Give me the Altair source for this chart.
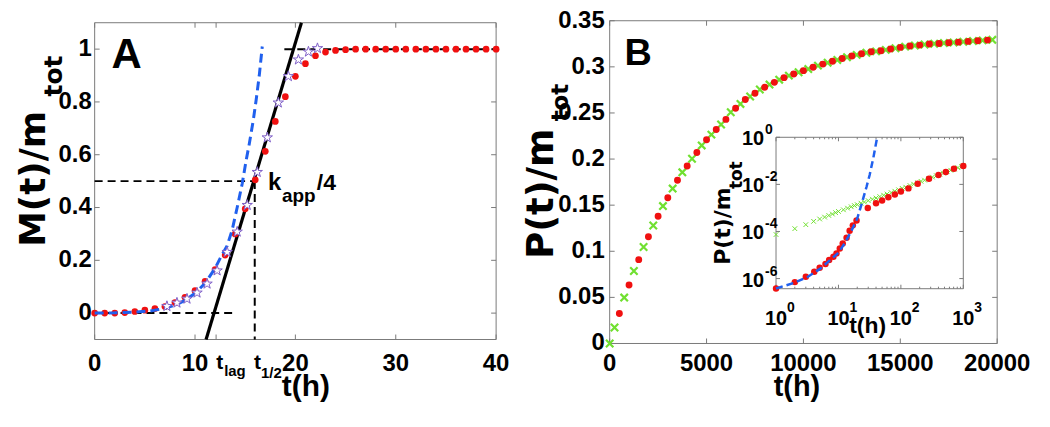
import altair as alt
import pandas as pd

# ---------------- Panel A data ----------------
A_RED_T = list(range(0, 41))
A_RED_Y = [0, 0, 0, 0.002, 0.006, 0.011, 0.017, 0.025, 0.04, 0.06, 0.085, 0.12, 0.165,
           0.22, 0.30, 0.395, 0.505, 0.613, 0.726, 0.82, 0.897, 0.945, 0.975, 0.989,
           0.995, 0.998, 1, 1, 1, 1, 1, 1, 1, 1, 1, 1, 1, 1, 1, 1, 1]
A_STAR_T = [7.2, 8.2, 9.2, 10.2, 11.2, 12.2, 13.2, 14.2, 15.2, 16.2, 17.2, 18.3, 19.3, 20.3, 21.3, 22.2]
A_STAR_Y = [0.026, 0.039, 0.054, 0.077, 0.111, 0.161, 0.231, 0.308, 0.409, 0.534, 0.665,
            0.797, 0.897, 0.96, 0.99, 1.003]
A_BLUE_T = [0, 2, 4, 5.5, 7, 8, 9, 10, 11, 12, 12.6, 13.2, 13.7, 14.2, 14.7, 15.1, 15.4, 15.8, 16.1, 16.4, 16.7]
A_BLUE_Y = [0, 0.001, 0.004, 0.008, 0.018, 0.03, 0.048, 0.075, 0.113, 0.17, 0.215, 0.255,
            0.315, 0.40, 0.49, 0.58, 0.64, 0.73, 0.81, 0.9, 1.01]
A_FIT_T = [11.1, 20.6]
A_FIT_Y = [-0.1, 1.1]
A_GUIDE_SEG = ["base", "base", "half", "half", "thalf", "thalf", "top", "top"]
A_GUIDE_T = [0, 14.0, 0, 15.95, 15.95, 15.95, 18.9, 40]
A_GUIDE_Y = [0, 0, 0.5, 0.5, 0.5, -0.1, 1, 1]
A_XTICKS = [0, 10, 20, 30, 40]
A_XLABELS = ["0", "10", "20", "30", "40"]
A_XTICKS_MARK = [0, 10, 12.1, 20, 30, 40]
A_YTICKS = [0, 0.2, 0.4, 0.6, 0.8, 1]
A_YLABELS = ["0", "0.2", "0.4", "0.6", "0.8", "1"]
A_XDOM = [0, 40]
A_YDOM = [-0.1, 1.1]

# ---------------- Panel B data ----------------
B_RED_T = list(range(500, 20000, 500))
B_RED_P = [0.0325, 0.0635, 0.0909, 0.1158, 0.138, 0.158, 0.177, 0.1924, 0.2072, 0.221,
           0.232, 0.243, 0.2551, 0.2646, 0.2714, 0.2778, 0.2832, 0.2883, 0.2922, 0.2959,
           0.2995, 0.303, 0.306, 0.309, 0.3118, 0.3142, 0.3163, 0.3175, 0.3193, 0.3211,
           0.3226, 0.3236, 0.3247, 0.3254, 0.3261, 0.3268, 0.3276, 0.3283, 0.329]
B_GREEN_T = [0] + list(range(250, 20000, 500))
B_GREEN_P = [0, 0.0173, 0.0498, 0.0786, 0.1046, 0.128, 0.149, 0.168, 0.1856, 0.2003,
             0.2148, 0.2265, 0.2375, 0.2508, 0.2598, 0.2678, 0.2754, 0.2808, 0.2861, 0.2905,
             0.2941, 0.2976, 0.3013, 0.3045, 0.3075, 0.3105, 0.313, 0.3153, 0.3168, 0.3184,
             0.3202, 0.3219, 0.3231, 0.3242, 0.3251, 0.3258, 0.3265, 0.3272, 0.328, 0.3287,
             0.3293]
B_XTICKS = [0, 5000, 10000, 15000, 20000]
B_XLABELS = ["0", "5000", "10000", "15000", "20000"]
B_YTICKS = [0, 0.05, 0.1, 0.15, 0.2, 0.25, 0.3, 0.35]
B_YLABELS = ["0", "0.05", "0.1", "0.15", "0.2", "0.25", "0.3", "0.35"]
B_XDOM = [0, 20000]
B_YDOM = [0, 0.35]

# ---------------- Inset data (log10 of P as read) ----------------
I_RED_T = [1, 2, 3, 4.1, 5, 6.2, 7.1, 8.3, 9.3, 10.5, 11.7, 13.5, 15.1, 17, 19.5,
           29.5, 40, 50, 63, 80, 100, 132, 186, 282, 400, 525, 708, 1000]
I_RED_LOGP = [-6.42, -6.15, -5.92, -5.71, -5.54, -5.38, -5.21, -5.07, -4.93, -4.72, -4.51,
              -4.27, -3.97, -3.74, -3.53, -3.0, -2.8, -2.68, -2.55, -2.43, -2.3, -2.17,
              -1.97, -1.76, -1.6, -1.47, -1.34, -1.22]
I_GREEN_T = [1, 2, 3, 4, 5, 6, 7, 8, 9, 10, 12, 14, 16, 18, 20, 23, 26, 30, 35, 40, 46, 53,
             60, 70, 80, 92, 105, 120, 140, 160, 185, 210, 240, 280, 320, 370, 420, 480,
             550, 630, 720, 820, 940, 1000]
I_GREEN_LOGP = [-4.13, -3.88, -3.71, -3.57, -3.47, -3.39, -3.32, -3.26, -3.2, -3.15, -3.08,
                -3.01, -2.95, -2.9, -2.86, -2.8, -2.75, -2.69, -2.63, -2.58, -2.52, -2.46,
                -2.41, -2.35, -2.29, -2.23, -2.17, -2.12, -2.05, -1.99, -1.93, -1.87, -1.82,
                -1.75, -1.69, -1.63, -1.57, -1.52, -1.46, -1.40, -1.35, -1.29, -1.24, -1.21]
I_BLUE_T = [1, 2, 3.2, 5, 7.1, 10, 12.6, 15.8, 20, 23.4, 28.2, 31.6, 36.3, 41.7]
I_BLUE_LOGP = [-6.42, -6.17, -5.93, -5.6, -5.25, -4.9, -4.5, -4.02, -3.45, -2.85, -2.1,
               -1.6, -0.86, 0.0]
I_XMAJOR = [1, 10, 100, 1000]
I_XEXP = ["0", "1", "2", "3"]
I_XMINOR = [2, 3, 4, 5, 6, 7, 8, 9, 20, 30, 40, 50, 60, 70, 80, 90, 200, 300, 400, 500,
            600, 700, 800, 900]
I_YMAJOR = [1, 1e-2, 1e-4, 1e-6]
I_YEXP = ["0", "-2", "-4", "-6"]
I_XDOM = [1, 1000]
I_YDOM = [10 ** -6.43, 1]

# ---------------- style / layout ----------------
SANS = "Liberation Sans, Arial, sans-serif"
WIDE = "DejaVu Sans, sans-serif"
RED = "#f01010"
BLUE = "#2060ee"
GREEN = "#70e030"
PURPLE = "#7f5fc8"
FRAME = "#7a7a7a"
STAR = ("M0,-1L0.2245,-0.309L0.951,-0.309L0.363,0.118L0.588,0.809L0,0.382"
        "L-0.588,0.809L-0.363,0.118L-0.951,-0.309L-0.2245,-0.309Z")
XSHAPE = "M-1,-1L1,1M-1,1L1,-1"
TICK_FS = 24

W, H = 906, 324
A_XR, A_YR = [0, 403], [320, 2]
B_XR, B_YR = [517, 906], [324, 0]
I_XR, I_YR = [684, 872], [269, 117]


def sc(dom, rng, typ="linear"):
    return alt.Scale(type=typ, domain=dom, range=rng, nice=False, zero=False)


def frame(xdom, ydom, xs, ys, fill=None):
    df = pd.DataFrame({"x0": [xdom[0]], "x1": [xdom[1]], "y0": [ydom[0]], "y1": [ydom[1]]})
    kw = dict(stroke=FRAME, strokeWidth=1)
    if fill:
        mk = alt.Chart(df).mark_rect(fill=fill, **kw)
    else:
        mk = alt.Chart(df).mark_rect(fillOpacity=0, **kw)
    return mk.encode(
        x=alt.X("x0:Q", scale=xs, axis=None), x2="x1",
        y=alt.Y("y0:Q", scale=ys, axis=None), y2="y1")


def ticks(xv, yv, xs, ys, xr, yr, ln=5):
    out = []
    dx = pd.DataFrame({"v": xv})
    dy = pd.DataFrame({"v": yv})
    for y0, y1 in [(yr[0], yr[0] - ln), (yr[1], yr[1] + ln)]:
        out.append(alt.Chart(dx).mark_rule(color=FRAME, strokeWidth=1).encode(
            x=alt.X("v:Q", scale=xs, axis=None), y=alt.value(y0), y2=alt.value(y1)))
    for x0, x1 in [(xr[0], xr[0] + ln), (xr[1], xr[1] - ln)]:
        out.append(alt.Chart(dy).mark_rule(color=FRAME, strokeWidth=1).encode(
            y=alt.Y("v:Q", scale=ys, axis=None), x=alt.value(x0), x2=alt.value(x1)))
    return out


def xlabels(vals, labels, xs, y, size=TICK_FS):
    return alt.Chart(pd.DataFrame({"v": vals, "s": labels})).mark_text(
        font=SANS, fontSize=size, fontWeight="bold", align="center",
        baseline="alphabetic", color="black").encode(
        x=alt.X("v:Q", scale=xs, axis=None), y=alt.value(y), text="s:N")


def ylabels(vals, labels, ys, x, size=TICK_FS):
    return alt.Chart(pd.DataFrame({"v": vals, "s": labels})).mark_text(
        font=SANS, fontSize=size, fontWeight="bold", align="right",
        baseline="middle", color="black").encode(
        y=alt.Y("v:Q", scale=ys, axis=None), x=alt.value(x), text="s:N")


def txt(s, x, y, size, font=SANS, align="left", angle=0):
    return alt.Chart(pd.DataFrame({"a": [0]})).mark_text(
        text=s, font=font, fontSize=size, fontWeight="bold", align=align,
        baseline="alphabetic", angle=angle, color="black").encode(
        x=alt.value(x), y=alt.value(y))


# ---------------- Panel A ----------------
axs, ays = sc(A_XDOM, A_XR), sc(A_YDOM, A_YR)
XA = lambda f: alt.X(f, scale=axs, axis=None)
YA = lambda f: alt.Y(f, scale=ays, axis=None)

dA_red = pd.DataFrame({"t": A_RED_T, "y": A_RED_Y})
dA_star = pd.DataFrame({"t": A_STAR_T, "y": A_STAR_Y})
dA_blue = pd.DataFrame({"t": A_BLUE_T, "y": A_BLUE_Y, "i": range(len(A_BLUE_T))})
dA_fit = pd.DataFrame({"t": A_FIT_T, "y": A_FIT_Y})
dA_guide = pd.DataFrame({"t": A_GUIDE_T, "y": A_GUIDE_Y, "seg": A_GUIDE_SEG,
                         "i": range(len(A_GUIDE_T))})

groupA = alt.layer(
    frame(A_XDOM, A_YDOM, axs, ays),
    *ticks(A_XTICKS_MARK, A_YTICKS, axs, ays, A_XR, A_YR),
    xlabels(A_XTICKS, A_XLABELS, axs, 352),
    ylabels(A_YTICKS, A_YLABELS, ays, -3),
    alt.Chart(dA_guide).mark_line(color="black", strokeWidth=2, strokeDash=[8, 5]).encode(
        x=XA("t:Q"), y=YA("y:Q"), detail="seg:N", order="i:Q"),
    alt.Chart(dA_fit).mark_line(color="black", strokeWidth=3.2).encode(x=XA("t:Q"), y=YA("y:Q")),
    alt.Chart(dA_red).mark_circle(color=RED, size=45, opacity=1).encode(x=XA("t:Q"), y=YA("y:Q")),
    alt.Chart(dA_blue).mark_line(color=BLUE, strokeWidth=3, strokeDash=[9, 5]).encode(
        x=XA("t:Q"), y=YA("y:Q"), order="i:Q"),
    alt.Chart(dA_star).mark_point(shape=STAR, fill="white", fillOpacity=1, stroke=PURPLE,
                                  strokeWidth=1, size=120, opacity=1).encode(
        x=XA("t:Q"), y=YA("y:Q")),
)

# ---------------- Panel B ----------------
bxs, bys = sc(B_XDOM, B_XR), sc(B_YDOM, B_YR)
XB = lambda f: alt.X(f, scale=bxs, axis=None)
YB = lambda f: alt.Y(f, scale=bys, axis=None)
dB_red = pd.DataFrame({"t": B_RED_T, "p": B_RED_P})
dB_green = pd.DataFrame({"t": B_GREEN_T, "p": B_GREEN_P})

groupB = alt.layer(
    frame(B_XDOM, B_YDOM, bxs, bys),
    *ticks(B_XTICKS, B_YTICKS, bxs, bys, B_XR, B_YR),
    xlabels(B_XTICKS, B_XLABELS, bxs, 352),
    ylabels(B_YTICKS, B_YLABELS, bys, B_XR[0] - 5),
    alt.Chart(dB_green).mark_point(shape=XSHAPE, filled=False, color=GREEN, strokeWidth=2.2,
                                   size=55, opacity=1).encode(x=XB("t:Q"), y=YB("p:Q")),
    alt.Chart(dB_red).mark_circle(color=RED, size=48, opacity=1).encode(x=XB("t:Q"), y=YB("p:Q")),
)

# ---------------- Inset ----------------
ixs, iys = sc(I_XDOM, I_XR, "log"), sc(I_YDOM, I_YR, "log")
XI = lambda f: alt.X(f, scale=ixs, axis=None)
YI = lambda f: alt.Y(f, scale=iys, axis=None)
dI_red = pd.DataFrame({"t": I_RED_T, "p": [10 ** v for v in I_RED_LOGP]})
dI_green = pd.DataFrame({"t": I_GREEN_T, "p": [10 ** v for v in I_GREEN_LOGP]})
dI_blue = pd.DataFrame({"t": I_BLUE_T, "p": [10 ** v for v in I_BLUE_LOGP]})
dI_xl = pd.DataFrame({"v": I_XMAJOR, "e": I_XEXP})
dI_yl = pd.DataFrame({"v": I_YMAJOR, "e": I_YEXP})
dI_minor = pd.DataFrame({"v": I_XMINOR})

groupI = alt.layer(
    frame(I_XDOM, I_YDOM, ixs, iys, fill="white"),
    *ticks(I_XMAJOR, I_YMAJOR, ixs, iys, I_XR, I_YR, ln=4),
    alt.Chart(dI_minor).mark_rule(color=FRAME, strokeWidth=1).encode(
        x=XI("v:Q"), y=alt.value(I_YR[0]), y2=alt.value(I_YR[0] - 2)),
    alt.Chart(dI_minor).mark_rule(color=FRAME, strokeWidth=1).encode(
        x=XI("v:Q"), y=alt.value(I_YR[1]), y2=alt.value(I_YR[1] + 2)),
    alt.Chart(dI_green).mark_point(shape=XSHAPE, filled=False, color=GREEN, strokeWidth=1,
                                   size=22, opacity=1).encode(x=XI("t:Q"), y=YI("p:Q")),
    alt.Chart(dI_red).mark_circle(color=RED, size=42, opacity=1).encode(x=XI("t:Q"), y=YI("p:Q")),
    alt.Chart(dI_blue).mark_line(color=BLUE, strokeWidth=2.5, strokeDash=[7, 4]).encode(
        x=XI("t:Q"), y=YI("p:Q")),
    alt.Chart(dI_xl).mark_text(text="10", font=SANS, fontSize=20, fontWeight="bold",
                               align="center", baseline="alphabetic", color="black").encode(
        x=XI("v:Q"), y=alt.value(305)),
    alt.Chart(dI_xl).mark_text(font=SANS, fontSize=14, fontWeight="bold", align="left",
                               baseline="alphabetic", dx=11, color="black").encode(
        x=XI("v:Q"), y=alt.value(292), text="e:N"),
    alt.Chart(dI_yl).mark_text(text="10", font=SANS, fontSize=20, fontWeight="bold",
                               align="right", baseline="alphabetic", dy=8, color="black").encode(
        y=YI("v:Q"), x=alt.value(672)),
    alt.Chart(dI_yl).mark_text(font=SANS, fontSize=14, fontWeight="bold", align="left",
                               baseline="alphabetic", dy=-3, color="black").encode(
        y=YI("v:Q"), x=alt.value(673), text="e:N"),
)

# ---------------- annotations ----------------
annots = [
    txt("A", 17, 47, 42),
    txt("B", 532, 44, 38),
    txt("M(t)/m", -50, 227, 36, font=WIDE, angle=270),
    txt("tot", -33, 76, 25, font=WIDE, angle=270),
    txt("P(t)/m", 460, 239, 37, font=WIDE, angle=270),
    txt("tot", 475, 101, 23, font=WIDE, angle=270),
    txt("P(t)/m", 638, 245, 22, font=WIDE, angle=270),
    txt("tot", 650, 169, 17, font=WIDE, angle=270),
    txt("t(h)", 212, 377, 30, align="center"),
    txt("t(h)", 705, 377, 29, align="center"),
    txt("t(h)", 776, 313, 23, align="center"),
    txt("k", 174, 170, 24),
    txt("app", 188, 182, 19),
    txt("/4", 223, 170, 23),
    txt("t", 122, 350, 21),
    txt("lag", 130, 357, 15),
    txt("t", 160, 350, 21),
    txt("1/2", 167, 359, 15),
]

chart = alt.layer(groupA, groupB, groupI, *annots).resolve_scale(
    x="independent", y="independent").properties(
    width=W, height=H,
    padding={"left": 87, "top": 12, "right": 45, "bottom": 73},
    autosize=alt.AutoSizeParams(type="none"),
).configure_view(stroke=None)

chart.save("out.html", embed_options={"renderer": "svg", "actions": False})
